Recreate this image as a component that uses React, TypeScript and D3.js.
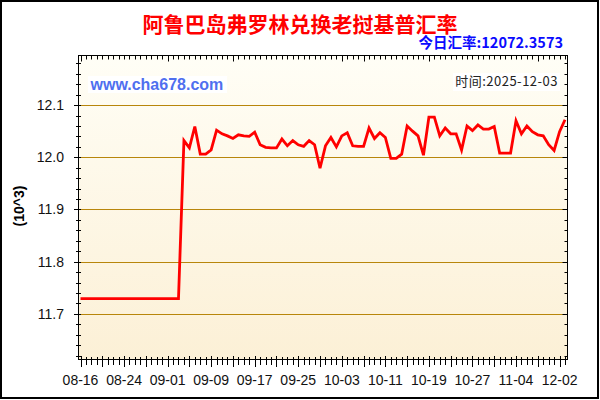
import React from 'react';
import * as d3 from 'd3';

const TITLE = '阿鲁巴岛弗罗林兑换老挝基普汇率';
const TODAY_LABEL = '今日汇率:12072.3573';
const TIME_LABEL = '时间:2025-12-03';
const WATERMARK = 'www.cha678.com';
const Y_UNIT = '(10^3)';

const rates: number[] = [
  11.729, 11.729, 11.729, 11.729, 11.729, 11.729, 11.729, 11.729, 11.729, 11.729,
  11.729, 11.729, 11.729, 11.729, 11.729, 11.729, 11.729, 11.729, 11.729,
  12.032, 12.018, 12.059, 12.006, 12.006, 12.014, 12.052, 12.045, 12.041, 12.036,
  12.043, 12.041, 12.040, 12.048, 12.024, 12.019, 12.018, 12.018, 12.035, 12.022,
  12.032, 12.024, 12.021, 12.032, 12.024, 11.979, 12.022, 12.038, 12.020, 12.041,
  12.047, 12.022, 12.021, 12.021, 12.056, 12.036, 12.047, 12.038, 11.998, 11.998,
  12.006, 12.060, 12.050, 12.041, 12.004, 12.077, 12.077, 12.041, 12.056, 12.045,
  12.045, 12.014, 12.060, 12.051, 12.062, 12.054, 12.054, 12.059, 12.008, 12.008,
  12.008, 12.070, 12.045, 12.060, 12.049, 12.043, 12.041, 12.024, 12.013, 12.049,
  12.072,
];

const xTickIndex: number[] = [0, 8, 16, 24, 32, 40, 48, 56, 64, 72, 80, 88];
const xTickLabels: string[] = ['08-16', '08-24', '09-01', '09-09', '09-17', '09-25', '10-03', '10-11', '10-19', '10-27', '11-04', '12-02'];
const topLongTicks: number[] = [0, 16, 28, 48, 52, 64, 84];
const yMajorTicks: number[] = [11.7, 11.8, 11.9, 12.0, 12.1];
const yDomain: [number, number] = [11.6115, 12.196];

const W = 600;
const H = 400;
const PL = 78.5;
const PR = 567.5;
const PT = 55.5;
const PB = 359.5;

const FONT = '"Liberation Sans", Arial, sans-serif';
const CJK = '"Noto Sans CJK SC", "Liberation Sans", sans-serif';

export default function App() {
  const x = d3.scaleLinear().domain([0, rates.length - 1]).range([80.5, 565]);
  const y = d3.scaleLinear().domain(yDomain).range([360, 55]);
  const line = d3
    .line<number>()
    .x((_, i) => x(i))
    .y((d) => y(d));

  const allIdx = d3.range(0, rates.length);
  const yMinor = d3.range(11.62, 12.19, 0.02).map((v) => Math.round(v * 100) / 100);

  return (
    <svg
      width={W}
      height={H}
      style={{ position: 'absolute', left: 0, top: 0, background: '#fff' }}
    >
      <defs>
        <linearGradient id="bg" x1="0" y1="0" x2="0" y2="1">
          <stop offset="0%" stopColor="#FFFEF6" />
          <stop offset="100%" stopColor="#FCF0D6" />
        </linearGradient>
      </defs>
      <rect x={0} y={0} width={W} height={H} fill="#fff" />
      <rect x={1} y={1} width={597} height={397} fill="none" stroke="#000" strokeWidth={2} />

      <text x={300} y={31.5} textAnchor="middle" fontFamily={CJK} fontWeight={700} fontSize={21} fill="#FF0000">
        {TITLE}
      </text>
      <text x={563} y={48} textAnchor="end" fontFamily={CJK} fontWeight={700} fontSize={14.5} fill="#0A0AFF">
        {TODAY_LABEL}
      </text>

      <rect x={PL} y={PT} width={PR - PL} height={PB - PT} fill="url(#bg)" />

      {yMajorTicks.map((v) => (
        <line key={'g' + v} x1={PL} x2={PR} y1={Math.round(y(v)) + 0.5} y2={Math.round(y(v)) + 0.5} stroke="#B8860B" strokeWidth={1} />
      ))}

      <rect x={88} y={76} width={139} height={17} fill="#fff" />
      <text x={90.5} y={90} fontFamily={FONT} fontWeight={700} fontSize={16} fill="#4F6FEF">
        {WATERMARK}
      </text>
      <rect x={453} y={73} width={107} height={18} fill="#fff" />
      <text x={558} y={86} textAnchor="end" fontFamily={CJK} fontSize={13} fill="#222" letterSpacing={0.5}>
        {TIME_LABEL}
      </text>

      <path d={line(rates) || ''} fill="none" stroke="#FF0000" strokeWidth={2.8} strokeLinejoin="miter" />

      <rect x={PL} y={PT} width={PR - PL} height={PB - PT} fill="none" stroke="#000" strokeWidth={1} />

      {allIdx.map((i) => {
        const xx = Math.round(x(i)) + 0.5;
        const long = i % 4 === 0;
        return <line key={'bt' + i} x1={xx} x2={xx} y1={long ? 356 : 357} y2={long ? 367 : 365} stroke="#000" />;
      })}
      {allIdx.map((i) => {
        const xx = Math.round(x(i)) + 0.5;
        const long = topLongTicks.includes(i);
        return <line key={'tt' + i} x1={xx} x2={xx} y1={PT} y2={long ? PT + 6 : PT + 4} stroke="#000" />;
      })}
      {yMinor.map((v) => {
        const yy = Math.round(y(v)) + 0.5;
        const major = Math.abs(v * 10 - Math.round(v * 10)) < 1e-6;
        return (
          <g key={'yt' + v}>
            <line x1={major ? 74 : 76} x2={81} y1={yy} y2={yy} stroke="#000" />
            <line x1={major ? 562.5 : 564.5} x2={PR} y1={yy} y2={yy} stroke="#000" />
          </g>
        );
      })}

      {yMajorTicks.map((v) => (
        <text key={'yl' + v} x={64} y={y(v)} dy="0.36em" textAnchor="end" fontFamily={FONT} fontSize={14} fill="#111">
          {v.toFixed(1)}
        </text>
      ))}

      {xTickIndex.map((i, k) => (
        <text key={'xl' + i} x={x(i)} y={385} textAnchor="middle" fontFamily={FONT} fontSize={14} fill="#111">
          {xTickLabels[k]}
        </text>
      ))}

      <text
        transform="translate(23.5,206) rotate(-90)"
        textAnchor="middle"
        fontFamily={FONT}
        fontWeight={700}
        fontSize={14}
        fill="#000"
      >
        {Y_UNIT}
      </text>
    </svg>
  );
}
